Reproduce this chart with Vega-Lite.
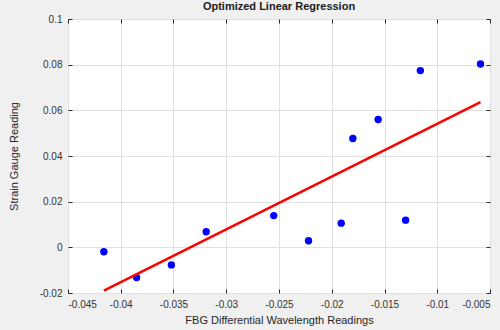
{
  "$schema": "https://vega.github.io/schema/vega-lite/v6.json",
  "autosize": {"type": "none"},
  "width": 422,
  "height": 274,
  "padding": {"left": 68, "top": 19, "right": 10, "bottom": 37},
  "background": "#f0f0f0",
  "config": {
    "view": {"fill": "white", "stroke": "#262626", "strokeWidth": 1},
    "font": "Liberation Sans",
    "axis": {
      "gridColor": "#dfdfdf",
      "gridWidth": 1,
      "domain": false,
      "tickColor": "#262626",
      "tickSize": -4,
      "labelColor": "#333333",
      "labelFont": "Liberation Sans",
      "labelFontSize": 10,
      "titleFont": "Liberation Sans",
      "titleFontSize": 11,
      "titleFontWeight": "normal",
      "titleColor": "#262626"
    }
  },
  "title": {
    "text": "Optimized Linear Regression",
    "fontSize": 11,
    "fontWeight": "bold",
    "color": "#1a1a1a",
    "font": "Liberation Sans",
    "offset": 2,
    "anchor": "middle"
  },
  "datasets": {
    "points": [
      {"fbg": -0.0416, "strain": -0.0019},
      {"fbg": -0.0385, "strain": -0.0132},
      {"fbg": -0.0352, "strain": -0.0077},
      {"fbg": -0.0319, "strain": 0.0068},
      {"fbg": -0.0255, "strain": 0.0139},
      {"fbg": -0.0222, "strain": 0.0029},
      {"fbg": -0.0191, "strain": 0.0106},
      {"fbg": -0.0180, "strain": 0.0477},
      {"fbg": -0.0156, "strain": 0.0560},
      {"fbg": -0.0130, "strain": 0.0119},
      {"fbg": -0.0116, "strain": 0.0774},
      {"fbg": -0.0059, "strain": 0.0803}
    ],
    "fit": [
      {"fbg": -0.0416, "strain": -0.0190},
      {"fbg": -0.0059, "strain": 0.0636}
    ]
  },
  "layer": [
    {
      "data": {"name": "points"},
      "mark": {"type": "circle", "size": 55, "color": "#0000ff", "opacity": 1},
      "encoding": {
        "x": {
          "field": "fbg", "type": "quantitative",
          "scale": {"domain": [-0.045, -0.005], "nice": false, "zero": false},
          "axis": {
            "orient": "bottom",
            "title": "FBG Differential Wavelength Readings",
            "values": [-0.045, -0.04, -0.035, -0.03, -0.025, -0.02, -0.015, -0.01, -0.005],
            "labelExpr": "replace(format(datum.value, '~g'), '−', '-')",
            "labelPadding": 10,
            "titlePadding": 5
          }
        },
        "y": {
          "field": "strain", "type": "quantitative",
          "scale": {"domain": [-0.02, 0.1], "nice": false, "zero": false},
          "axis": {
            "orient": "left",
            "title": "Strain Gauge Reading",
            "values": [-0.02, 0, 0.02, 0.04, 0.06, 0.08, 0.1],
            "labelExpr": "replace(format(datum.value, '~g'), '−', '-')",
            "labelPadding": 10,
            "titlePadding": 20
          }
        }
      }
    },
    {
      "data": {"name": "fit"},
      "mark": {"type": "line", "color": "#ff0000", "strokeWidth": 2.5},
      "encoding": {
        "x": {
          "field": "fbg", "type": "quantitative",
          "axis": {"orient": "top", "title": null, "labels": false, "grid": false,
                   "values": [-0.045, -0.04, -0.035, -0.03, -0.025, -0.02, -0.015, -0.01, -0.005]}
        },
        "y": {
          "field": "strain", "type": "quantitative",
          "axis": {"orient": "right", "title": null, "labels": false, "grid": false,
                   "values": [-0.02, 0, 0.02, 0.04, 0.06, 0.08, 0.1]}
        }
      }
    }
  ],
  "resolve": {"axis": {"x": "independent", "y": "independent"}}
}
